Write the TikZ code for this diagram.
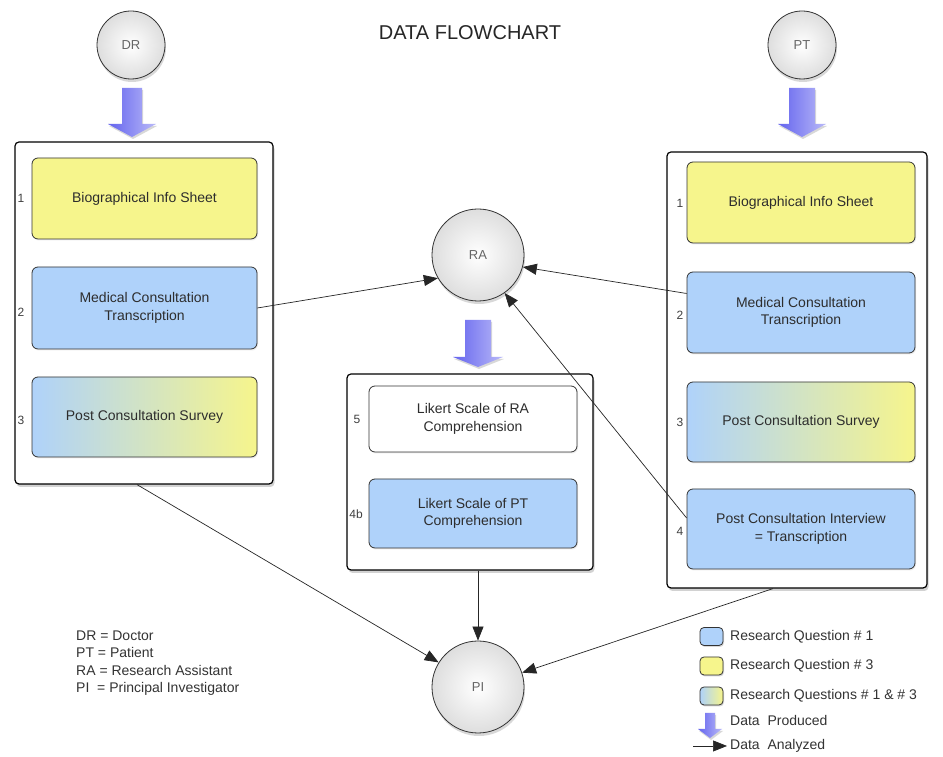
\documentclass[tikz,border=0pt]{standalone}
\usepackage{fontspec}
\setmainfont{Liberation Sans}
\usetikzlibrary{shadows,arrows.meta,calc}
\definecolor{rqyellow}{RGB}{246,245,140}
\definecolor{rqblue}{RGB}{175,210,250}
\definecolor{barrowdark}{RGB}{100,100,238}
\definecolor{barrowlight}{RGB}{185,185,248}
\definecolor{txt}{RGB}{45,45,45}
\newcommand{\blockarrow}[6]{%
  \path[left color=barrowdark, right color=barrowlight,
        drop shadow={opacity=0.3,shadow xshift=1pt,shadow yshift=-2pt}]
    (#1-#5,#2) -- (#1+#5,#2) -- (#1+#5,#3) -- (#1+#6,#3) -- (#1,#4)
    -- (#1-#6,#3) -- (#1-#5,#3) -- cycle;}
\begin{document}
\begin{tikzpicture}[x=1pt,y=1pt,
  panel/.style={draw=black, line width=1.2pt, fill=white, rounded corners=4pt,
    inner sep=0pt, drop shadow={opacity=0.35,shadow xshift=1.5pt,shadow yshift=-3pt}},
  databox/.style={draw=black!80, line width=0.8pt, rounded corners=6pt, align=center,
    text=txt, font=\fontsize{14}{17.5}\selectfont, inner sep=0pt,
    drop shadow={opacity=0.15,shadow xshift=1pt,shadow yshift=-1.5pt}},
  lbox/.style={databox, minimum width=225pt},
  rbox/.style={databox, minimum width=228pt},
  cbox/.style={databox, minimum width=208pt},
  grad/.style={left color=rqblue, right color=rqyellow},
  num/.style={text=black!75, font=\fontsize{12}{14}\selectfont, inner sep=0pt},
  circ/.style={circle, draw=black!80, line width=0.8pt, inner color=white,
    outer color=black!13, text=black!60, font=\fontsize{13}{15}\selectfont,
    inner sep=0pt, drop shadow={opacity=0.3,shadow xshift=1pt,shadow yshift=-3pt}},
  conn/.style={draw=black!85, line width=0.7pt, -{Triangle[length=14pt,width=11pt]}},
  legtxt/.style={anchor=west, text=black!80, font=\fontsize{14}{16}\selectfont, inner sep=0pt},
  swatch/.style={draw=black!80, line width=0.8pt, rounded corners=4pt, minimum width=23pt,
    minimum height=18pt, inner sep=0pt,
    drop shadow={opacity=0.3,shadow xshift=1pt,shadow yshift=-1.5pt}}
]
\useasboundingbox (0,0) rectangle (943,757);
\fill[white] (0,0) rectangle (943,757);

\node[font=\fontsize{20}{24}\selectfont, text=black!85] (title) at (470,724) {DATA FLOWCHART};

% circles
\node[circ, minimum size=68pt] (DR) at (131,712) {DR};
\node[circ, minimum size=68pt] (PT) at (802,712) {PT};
\node[circ, minimum size=92pt] (RA) at (478,502) {RA};
\node[circ, minimum size=92pt] (PI) at (478,70) {PI};

% block arrows (data produced)
\blockarrow{132}{669}{633}{620}{10}{24}
\blockarrow{802}{669}{633}{620}{13}{24}
\blockarrow{478}{437}{400}{390}{13}{25}

% panels
\node[panel, minimum width=258pt, minimum height=342pt] (lp) at (144,444) {};
\node[panel, minimum width=260pt, minimum height=436pt] (rp) at (797,387) {};
\node[panel, minimum width=246pt, minimum height=196pt] (cp) at (470,285) {};

% left boxes
\node[lbox, fill=rqyellow, minimum height=81pt] (l1) at (144.5,558.5) {Biographical Info Sheet};
\node[lbox, fill=rqblue, minimum height=82pt] (l2) at (144.5,449) {Medical Consultation\\Transcription};
\node[lbox, grad, minimum height=80pt] (l3) at (144.5,340) {Post Consultation Survey};
\node[num] (ln1) at (21,559) {1};
\node[num] (ln2) at (21,445) {2};
\node[num] (ln3) at (21,337) {3};

% right boxes
\node[rbox, fill=rqyellow, minimum height=81pt] (r1) at (801,554.5) {Biographical Info Sheet};
\node[rbox, fill=rqblue, minimum height=81pt] (r2) at (801,444.5) {Medical Consultation\\Transcription};
\node[rbox, grad, minimum height=80pt] (r3) at (801,335) {Post Consultation Survey};
\node[rbox, fill=rqblue, minimum height=80pt] (r4) at (801,228) {Post Consultation Interview\\= Transcription};
\node[num] (rn1) at (680,554) {1};
\node[num] (rn2) at (680,442) {2};
\node[num] (rn3) at (680,335) {3};
\node[num] (rn4) at (680,226) {4};

% center boxes
\node[cbox, fill=white, minimum height=66pt] (c5) at (473,338) {Likert Scale of RA\\Comprehension};
\node[cbox, fill=rqblue, minimum height=69pt] (c4) at (473,243.5) {Likert Scale of PT\\Comprehension};
\node[num] (cn5) at (357,338) {5};
\node[num] (cn4) at (356,243) {4b};

% data analyzed connectors
\draw[conn] (l2.east) -- (RA.210);
\draw[conn] ([yshift=19pt]r2.west) -- (RA.345);
\draw[conn] ([yshift=11pt]r4.west) -- (RA.305);
\draw[conn] ([xshift=-7pt]lp.south) -- (PI.148);
\draw[conn] ([xshift=8pt]cp.south) -- (PI.north);
\draw[conn] ([xshift=-24pt]rp.south) -- (PI.18);

% left legend
\node[legtxt] (k1) at (76,121) {DR = Doctor};
\node[legtxt] (k2) at (76,104) {PT = Patient};
\node[legtxt] (k3) at (76,86) {RA = Research Assistant};
\node[legtxt] (k4) at (76,68) {PI\ \ = Principal Investigator};

% right legend
\node[swatch, fill=rqblue] (s1) at (711.5,120.5) {};
\node[swatch, fill=rqyellow] (s2) at (711.5,91) {};
\node[swatch, grad] (s3) at (711.5,61) {};
\node[legtxt] (t1) at (730,120) {Research Question \# 1};
\node[legtxt] (t2) at (730,91) {Research Question \# 3};
\node[legtxt] (t3) at (730,61) {Research Questions \# 1 \& \# 3};
\blockarrow{710}{44}{28}{19}{5}{12}
\node[legtxt] (t4) at (730,36) {Data\ \ Produced};
\coordinate (la0) at (693,11);
\coordinate (la1) at (727,11);
\draw[conn] (la0) -- (la1);
\node[legtxt] (t5) at (730,11) {Data\ \ Analyzed};
\end{tikzpicture}
\end{document}
